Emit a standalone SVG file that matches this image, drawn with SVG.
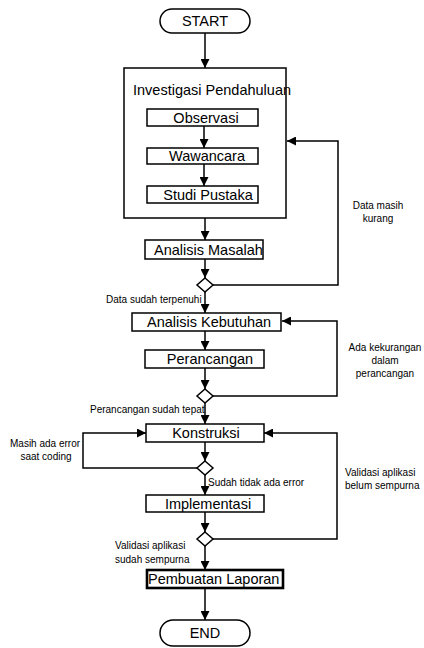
<svg xmlns="http://www.w3.org/2000/svg" width="424" height="648" viewBox="0 0 424 648">
  <style>
    .box { fill: #fff; stroke: #000; stroke-width: 1.5; }
    .frame { fill: none; stroke: #000; stroke-width: 1.5; }
    .bold { fill: #fff; stroke: #000; stroke-width: 2.6; }
    .lbl { font-family: "Liberation Sans", Arial, sans-serif; font-size: 14.5px; fill: #000; }
    .note { font-family: "Liberation Sans", Arial, sans-serif; font-size: 10px; fill: #000; }
    .mid { text-anchor: middle; }
    .wire { fill: none; stroke: #000; stroke-width: 1.5; marker-end: url(#arrow); }
  </style>
  <defs>
    <marker id="arrow" markerUnits="userSpaceOnUse" markerWidth="9" markerHeight="9" refX="9" refY="4.5" orient="auto">
      <path d="M0,0 L9,4.5 L0,9 z" fill="#000"/>
    </marker>
  </defs>
  <rect width="424" height="648" fill="#fff"/>

  <!-- connectors -->
  <g id="connectors">
    <path class="wire" d="M205,33 V68"/>
    <path class="wire" d="M204,126 V148"/>
    <path class="wire" d="M204,164 V186"/>
    <path class="wire" d="M205,218 V240"/>
    <path class="wire" d="M205,259 V278"/>
    <path class="wire" d="M213,285 H338 V141 H287"/>
    <path class="wire" d="M205,292 V313"/>
    <path class="wire" d="M205,331 V350"/>
    <path class="wire" d="M205,368 V389"/>
    <path class="wire" d="M213,396 H337 V321 H282"/>
    <path class="wire" d="M205,403 V424"/>
    <path class="wire" d="M205,442 V461"/>
    <path class="wire" d="M197,468 H83 V433 H146"/>
    <path class="wire" d="M205,475 V495"/>
    <path class="wire" d="M205,512 V532"/>
    <path class="wire" d="M213,539 H337 V433 H264"/>
    <path class="wire" d="M205,546 V570"/>
    <path class="wire" d="M205,588 V620"/>
  </g>

  <!-- connector labels -->
  <g id="labels">
    <text class="note mid" x="378" y="209">Data masih</text>
    <text class="note mid" x="378" y="222">kurang</text>
    <text class="note" x="106" y="303">Data sudah terpenuhi</text>
    <text class="note mid" x="385" y="351">Ada kekurangan</text>
    <text class="note mid" x="385" y="364">dalam</text>
    <text class="note mid" x="385" y="377">perancangan</text>
    <text class="note" x="90" y="413">Perancangan sudah tepat</text>
    <text class="note" x="10" y="447">Masih ada error</text>
    <text class="note mid" x="46" y="460">saat coding</text>
    <text class="note" x="208" y="486">Sudah tidak ada error</text>
    <text class="note" x="345" y="476">Validasi aplikasi</text>
    <text class="note" x="345" y="489">belum sempurna</text>
    <text class="note" x="115" y="549">Validasi aplikasi</text>
    <text class="note" x="115" y="563">sudah sempurna</text>
  </g>

  <g id="start">
    <rect class="box" x="160" y="9" width="90" height="24" rx="12"/>
    <text class="lbl mid" x="205" y="26">START</text>
  </g>

  <g id="investigasi">
    <rect class="frame" x="124" y="68" width="162" height="150"/>
    <text class="lbl" x="133" y="95">Investigasi Pendahuluan</text>
  </g>

  <g id="observasi">
    <rect class="box" x="147" y="109" width="111" height="17"/>
    <text class="lbl mid" x="206" y="123">Observasi</text>
  </g>

  <g id="wawancara">
    <rect class="box" x="147" y="148" width="111" height="16"/>
    <text class="lbl mid" x="207" y="161">Wawancara</text>
  </g>

  <g id="studi-pustaka">
    <rect class="box" x="147" y="186" width="111" height="17"/>
    <text class="lbl mid" x="208" y="200">Studi Pustaka</text>
  </g>

  <g id="analisis-masalah">
    <rect class="box" x="145" y="240" width="118" height="19"/>
    <text class="lbl" x="154" y="255">Analisis Masalah</text>
  </g>

  <g id="cek-data">
    <polygon class="box" points="205,278 213,285 205,292 197,285"/>
  </g>

  <g id="analisis-kebutuhan">
    <rect class="box" x="132" y="313" width="149" height="18"/>
    <text class="lbl" x="147" y="327">Analisis Kebutuhan</text>
  </g>

  <g id="perancangan">
    <rect class="box" x="145" y="350" width="119" height="18"/>
    <text class="lbl mid" x="210" y="364">Perancangan</text>
  </g>

  <g id="cek-perancangan">
    <polygon class="box" points="205,389 213,396 205,403 197,396"/>
  </g>

  <g id="konstruksi">
    <rect class="box" x="146" y="424" width="118" height="18"/>
    <text class="lbl mid" x="206" y="438">Konstruksi</text>
  </g>

  <g id="cek-error">
    <polygon class="box" points="205,461 213,468 205,475 197,468"/>
  </g>

  <g id="implementasi">
    <rect class="box" x="146" y="495" width="118" height="17"/>
    <text class="lbl mid" x="208" y="509">Implementasi</text>
  </g>

  <g id="cek-validasi">
    <polygon class="box" points="205,532 213,539 205,546 197,539"/>
  </g>

  <g id="pembuatan-laporan">
    <rect class="bold" x="147" y="570" width="136" height="18"/>
    <text class="lbl" x="148" y="584">Pembuatan Laporan</text>
  </g>

  <g id="end">
    <rect class="box" x="160" y="620" width="90" height="26" rx="13"/>
    <text class="lbl mid" x="205" y="638">END</text>
  </g>
</svg>
